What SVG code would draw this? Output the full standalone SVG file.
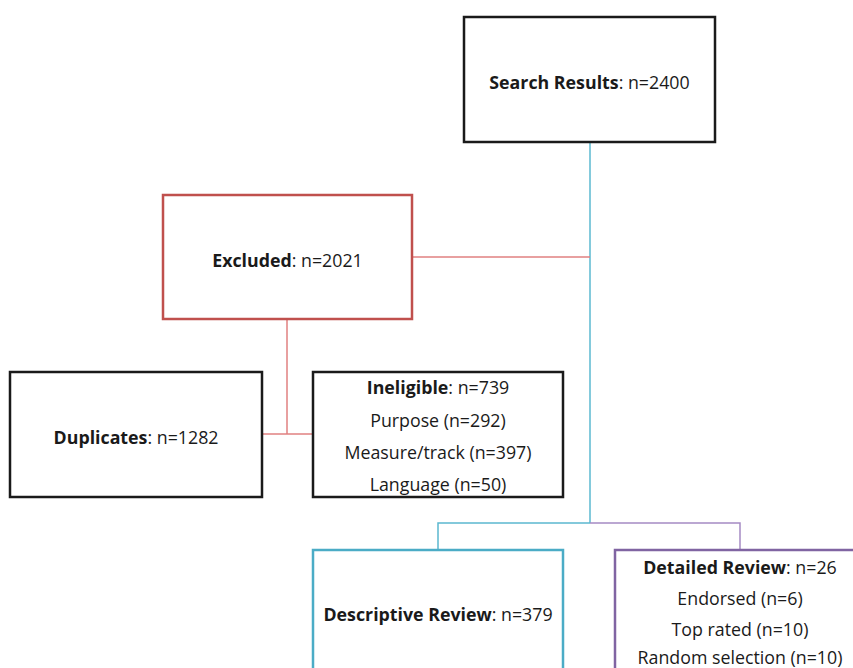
<svg xmlns="http://www.w3.org/2000/svg" width="853" height="668" viewBox="0 0 853 668">
<style>
  text { font-family: "Open Sans", "Liberation Sans", sans-serif; font-size: 17.8px; fill: #1a1a1a; text-anchor: middle; dominant-baseline: central; }
  .b { font-weight: bold; }
  .box { fill: #ffffff; stroke-width: 2.5; }
  .black { stroke: #1a1a1a; }
  .red { stroke: #c0504d; }
  .teal { stroke: #4bacc6; }
  .purple { stroke: #8064a2; }
  .conn { fill: none; stroke-width: 1.5; }
  .cred { stroke: #e08080; }
  .cteal { stroke: #5bb8d0; }
  .cpurple { stroke: #a58bc4; }
</style>
<rect width="853" height="668" fill="#ffffff"/>
<g id="connectors">
  <path class="conn cteal" d="M590,143 V523"/>
  <path class="conn cred" d="M412,257 H590"/>
  <path class="conn cred" d="M287,320 V434"/>
  <path class="conn cred" d="M262,434 H313"/>
  <path class="conn cteal" d="M590,523 H438 V550"/>
  <path class="conn cpurple" d="M590,523 H740 V550"/>
</g>
<g id="search-results">
  <rect class="box black" x="464" y="17" width="251" height="125"/>
  <text x="589.5" y="82"><tspan class="b">Search Results</tspan>: n=2400</text>
</g>
<g id="excluded">
  <rect class="box red" x="163" y="195" width="249" height="124"/>
  <text x="287.5" y="260"><tspan class="b">Excluded</tspan>: n=2021</text>
</g>
<g id="duplicates">
  <rect class="box black" x="10" y="372" width="252" height="125"/>
  <text x="136" y="437"><tspan class="b">Duplicates</tspan>: n=1282</text>
</g>
<g id="ineligible">
  <rect class="box black" x="313" y="372" width="250" height="125"/>
  <text x="438" y="387"><tspan class="b">Ineligible</tspan>: n=739</text>
  <text x="438" y="420">Purpose (n=292)</text>
  <text x="438" y="452">Measure/track (n=397)</text>
  <text x="438" y="484">Language (n=50)</text>
</g>
<g id="descriptive-review">
  <rect class="box teal" x="313" y="550" width="250" height="130"/>
  <text x="438" y="614"><tspan class="b">Descriptive Review</tspan>: n=379</text>
</g>
<g id="detailed-review">
  <rect class="box purple" x="615" y="550" width="250" height="130"/>
  <text x="740" y="567"><tspan class="b">Detailed Review</tspan>: n=26</text>
  <text x="740" y="598">Endorsed (n=6)</text>
  <text x="740" y="629">Top rated (n=10)</text>
  <text x="740" y="657">Random selection (n=10)</text>
</g>
</svg>
